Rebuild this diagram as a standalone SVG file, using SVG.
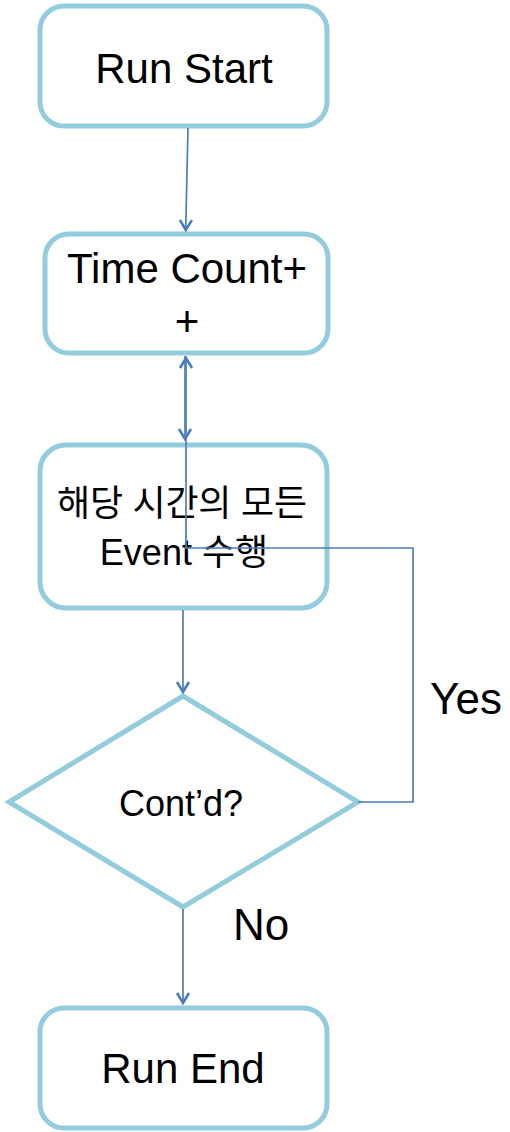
<svg xmlns="http://www.w3.org/2000/svg" width="510" height="1132" viewBox="0 0 510 1132">
<style>
.node{fill:#fff;stroke:#93CDDD;stroke-width:5}
.lbl{font-family:"Liberation Sans","Noto Sans CJK KR",Arial,sans-serif;fill:#000;text-anchor:middle}
.conn{fill:none;stroke:#4A7EBB;stroke-width:1.7}
</style>
<defs>
<marker id="arr" markerUnits="userSpaceOnUse" markerWidth="14" markerHeight="16" viewBox="-12 -8 14 16" refX="0" refY="0" orient="auto">
<path d="M-10,-6 L0,0 L-10,6" fill="none" stroke="#4A7EBB" stroke-width="2.6" stroke-linejoin="miter"/>
</marker>
</defs>
<rect width="510" height="1132" fill="#fff"/>
<g id="run-start">
<rect class="node" x="40" y="6" width="287" height="120" rx="24"/>
<text class="lbl" x="184" y="83" font-size="42">Run Start</text>
</g>
<g id="time-count">
<rect class="node" x="45" y="234" width="283" height="119" rx="24"/>
<text class="lbl" x="187" y="283" font-size="42">Time Count+</text>
<text class="lbl" x="187" y="336" font-size="42">+</text>
</g>
<g id="event">
<rect class="node" x="40" y="445" width="287" height="163" rx="26"/>
<text class="lbl" x="182" y="516" font-size="36" textLength="250" lengthAdjust="spacing">해당 시간의 모든</text>
<text class="lbl" x="184" y="565" font-size="36">Event 수행</text>
</g>
<g id="contd">
<polygon class="node" points="183,696 358,802 183,907 9,802"/>
<text class="lbl" x="181" y="816" font-size="36">Cont’d?</text>
</g>
<g id="run-end">
<rect class="node" x="40" y="1008" width="287" height="120" rx="24"/>
<text class="lbl" x="183" y="1083" font-size="42">Run End</text>
</g>
<g id="connectors">
<path class="conn" d="M188,128 L185.7,230" marker-end="url(#arr)"/>
<path class="conn" d="M185,356 L185,439" marker-end="url(#arr)"/>
<path class="conn" d="M358,802 L413,802 L413,548 L186,548 L186,358" marker-end="url(#arr)"/>
<path class="conn" d="M183,610 L183,692" marker-end="url(#arr)"/>
<path class="conn" d="M183,909 L183,1003" marker-end="url(#arr)"/>
</g>
<g id="edge-labels">
<text class="lbl" x="466" y="714" font-size="44">Yes</text>
<text class="lbl" x="261" y="940" font-size="44">No</text>
</g>
</svg>
